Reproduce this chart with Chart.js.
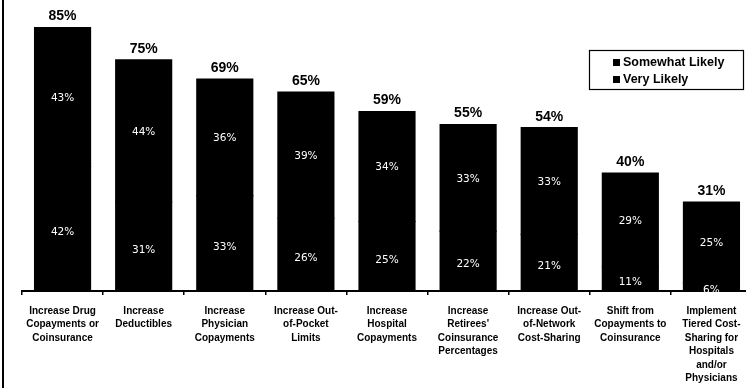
<!DOCTYPE html>
<html>
<head>
<meta charset="utf-8">
<title>Likely Changes to Retiree Cost-Sharing</title>
<script src="https://cdn.jsdelivr.net/npm/chart.js@4.4.0/dist/chart.umd.min.js"></script>
<style>
    body { margin: 0; background: #fff; overflow: hidden; }
    #wrap { width: 746px; height: 388px; overflow: hidden; }
</style>
</head>
<body>
<div id="wrap"><canvas id="likelyChart" width="752" height="388"></canvas></div>
<script>
// likely.js

// Category labels, one line per array entry
const categories = [
    ['Increase Drug', 'Copayments or', 'Coinsurance'],
    ['Increase', 'Deductibles'],
    ['Increase', 'Physician', 'Copayments'],
    ['Increase Out-', 'of-Pocket', 'Limits'],
    ['Increase', 'Hospital', 'Copayments'],
    ['Increase', "Retirees'", 'Coinsurance', 'Percentages'],
    ['Increase Out-', 'of-Network', 'Cost-Sharing'],
    ['Shift from', 'Copayments to', 'Coinsurance'],
    ['Implement', 'Tiered Cost-', 'Sharing for', 'Hospitals', 'and/or', 'Physicians']
];

// Percent of respondents
const veryLikely = [42, 31, 33, 26, 25, 22, 21, 11, 6];
const somewhatLikely = [43, 44, 36, 39, 34, 33, 33, 29, 25];

// Draw the frame line on the left edge
const framePlugin = {
    id: 'frame',
    beforeDraw(chart) {
        const ctx = chart.ctx;
        ctx.save();
        ctx.fillStyle = '#fff';
        ctx.fillRect(0, 0, chart.width, chart.height);
        ctx.fillStyle = '#000';
        ctx.fillRect(2, 0, 2, chart.height);
        ctx.restore();
    }
};

// Segment values inside the bars and totals above them
const labelPlugin = {
    id: 'barLabels',
    afterDatasetsDraw(chart) {
        const ctx = chart.ctx;
        ctx.save();
        ctx.textAlign = 'center';
        ctx.textBaseline = 'middle';

        ctx.fillStyle = '#fff';
        ctx.font = '10.5px "DejaVu Sans"';
        chart.data.datasets.forEach((ds, i) => {
            chart.getDatasetMeta(i).data.forEach((bar, j) => {
                const p = bar.getProps(['x', 'y', 'base'], true);
                let y = (p.y + p.base) / 2 + (i === 0 ? -2 : 1);
                // keep small segment labels clear of the axis line
                y = Math.min(y, p.base - 8);
                ctx.fillText(ds.data[j] + '%', p.x, y);
            });
        });

        ctx.fillStyle = '#000';
        ctx.font = 'bold 14px "Liberation Sans", Arial, sans-serif';
        const last = chart.getDatasetMeta(chart.data.datasets.length - 1);
        last.data.forEach((bar, j) => {
            const total = veryLikely[j] + somewhatLikely[j];
            ctx.fillText(total + '%', bar.x, bar.y - 11);
        });
        ctx.restore();
    }
};

// Boxed legend, listed top series first
const legendPlugin = {
    id: 'boxLegend',
    afterDraw(chart) {
        const ctx = chart.ctx;
        const items = chart.data.datasets.slice().reverse();
        ctx.save();
        ctx.strokeStyle = '#000';
        ctx.lineWidth = 1.2;
        ctx.strokeRect(589.5, 50.5, 154, 39);
        ctx.font = 'bold 12.5px "Liberation Sans", Arial, sans-serif';
        ctx.textAlign = 'left';
        ctx.textBaseline = 'middle';
        items.forEach((ds, i) => {
            const y = 63 + i * 17;
            ctx.fillStyle = ds.backgroundColor;
            ctx.fillRect(613, y - 4, 7, 7);
            ctx.fillStyle = '#000';
            ctx.fillText(ds.label, 623, y);
        });
        ctx.restore();
    }
};

function buildChart() {
    const canvas = document.getElementById('likelyChart');
    new Chart(canvas, {
        type: 'bar',
        data: {
            labels: categories,
            datasets: [
                {
                    label: 'Very Likely',
                    data: veryLikely,
                    backgroundColor: '#000',
                    borderWidth: 0,
                    inflateAmount: 0.6
                },
                {
                    label: 'Somewhat Likely',
                    data: somewhatLikely,
                    backgroundColor: '#000',
                    borderWidth: 0,
                    inflateAmount: 0.6
                }
            ]
        },
        options: {
            responsive: false,
            animation: false,
            layout: {
                padding: { left: 22, right: 0, top: 0, bottom: 0 }
            },
            datasets: {
                bar: {
                    categoryPercentage: 1,
                    barPercentage: 0.69
                }
            },
            plugins: {
                legend: { display: false },
                tooltip: { enabled: false }
            },
            scales: {
                x: {
                    stacked: true,
                    afterFit: (scale) => { scale.height = 97; },
                    border: { display: true, color: '#000', width: 2 },
                    grid: {
                        offset: true,
                        drawOnChartArea: false,
                        drawTicks: true,
                        tickLength: 4,
                        color: '#000',
                        lineWidth: 1.5
                    },
                    ticks: {
                        autoSkip: false,
                        maxRotation: 0,
                        minRotation: 0,
                        padding: 9,
                        color: '#000',
                        font: {
                            family: '"Liberation Sans", Arial, sans-serif',
                            size: 10,
                            weight: 'bold',
                            lineHeight: 1.35
                        }
                    }
                },
                y: {
                    stacked: true,
                    display: false,
                    min: 3.5,
                    max: 93.5
                }
            }
        },
        plugins: [framePlugin, labelPlugin, legendPlugin]
    });
}

buildChart();
</script>
</body>
</html>
